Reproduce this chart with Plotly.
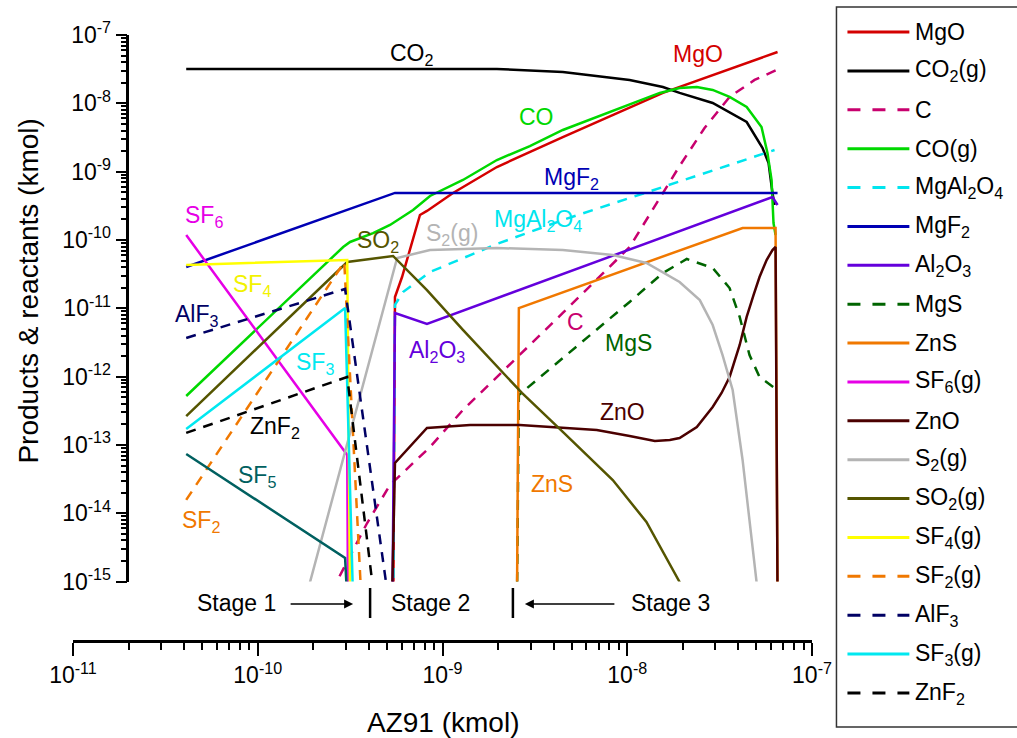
import numpy as np
import plotly.graph_objects as go

# ---------------- data (kmol) ----------------
mgo_x = [5.40e-10, 5.53e-10, 6.04e-10, 6.67e-10, 7.55e-10, 8.24e-10, 1.14e-9, 1.97e-9, 4.48e-9, 1.56e-8, 6.51e-8]
mgo_y = [1e-16, 1.46e-11, 2.87e-11, 7.13e-11, 2.32e-10, 2.66e-10, 4.88e-10, 1.17e-9, 3.21e-9, 1.42e-8, 5.64e-8]

co2_x = [4.1e-11, 2.46e-10, 1.97e-9, 4.48e-9, 1.03e-8, 1.56e-8, 1.92e-8, 2.90e-8, 4.43e-8, 5.40e-8, 5.82e-8, 6.11e-8, 6.27e-8]
co2_y = [3.18e-8, 3.18e-8, 3.18e-8, 2.88e-8, 2.20e-8, 1.73e-8, 1.42e-8, 1.01e-8, 5.33e-9, 2.22e-9, 1.34e-9, 4.88e-10, 3.25e-10]

c_x = [2.50e-10, 3.91e-10, 5.20e-10, 8.56e-10, 1.29e-9, 2.62e-9, 4.48e-9, 1.03e-8, 1.92e-8, 2.62e-8, 3.58e-8, 4.89e-8, 6.43e-8]
c_y = [7.0e-16, 7.21e-15, 2.60e-14, 9.33e-14, 3.25e-13, 2.07e-12, 8.55e-12, 7.89e-11, 1.21e-9, 4.35e-9, 1.24e-8, 2.20e-8, 3.08e-8]

co_x = [4.1e-11, 2.46e-10, 2.90e-10, 3.16e-10, 4.21e-10, 5.20e-10, 6.93e-10, 8.56e-10, 1.29e-9, 1.97e-9,
        2.97e-9, 4.48e-9, 1.03e-8, 1.50e-8, 1.92e-8, 2.38e-8, 2.90e-8, 3.58e-8, 4.43e-8, 5.33e-8,
        5.74e-8, 6.04e-8, 6.19e-8, 6.35e-8]
co_y = [5.21e-13, 5.27e-11, 7.89e-11, 9.35e-11, 1.26e-10, 1.66e-10, 2.75e-10, 4.41e-10, 7.55e-10, 1.48e-9,
        2.37e-9, 4.07e-9, 9.46e-9, 1.42e-8, 1.68e-8, 1.73e-8, 1.57e-8, 1.24e-8, 8.84e-9, 4.50e-9,
        1.88e-9, 7.55e-10, 1.77e-10, 1.18e-10]

mgal2o4_x = [5.40e-10, 5.53e-10, 6.11e-10, 8.56e-10, 1.97e-9, 4.48e-9, 1.56e-8, 5.68e-8, 6.27e-8]
mgal2o4_y = [1e-16, 1.12e-11, 1.73e-11, 3.40e-11, 8.73e-11, 1.96e-10, 5.97e-10, 1.94e-9, 2.07e-9]

mgf2_x = [4.1e-11, 5.53e-10, 6.51e-8]
mgf2_y = [4.03e-11, 4.88e-10, 4.88e-10]

al2o3_x = [5.33e-10, 5.53e-10, 8.24e-10, 6.11e-8, 6.51e-8]
al2o3_y = [1e-16, 8.55e-12, 5.90e-12, 4.26e-10, 3.25e-10]

mgs_x = [2.53e-9, 2.59e-9, 1.03e-8, 1.56e-8, 2.10e-8, 2.90e-8, 3.58e-8, 4.06e-8, 4.59e-8, 5.20e-8, 6.27e-8]
mgs_y = [5.4e-16, 5.39e-13, 1.24e-11, 3.29e-11, 5.27e-11, 3.89e-11, 1.98e-11, 7.47e-12, 2.07e-12, 9.89e-13, 6.82e-13]

zns_x = [2.53e-9, 2.59e-9, 4.21e-8, 6.35e-8, 6.51e-8]
zns_y = [5.4e-16, 1.01e-11, 1.50e-10, 1.50e-10, 5.4e-16]

sf6_x = [4.1e-11, 3.05e-10, 3.08e-10]
sf6_y = [1.18e-10, 7.13e-14, 5.4e-16]

zno_x = [5.33e-10, 5.53e-10, 8.24e-10, 1.41e-9, 2.62e-9, 6.84e-9, 1.03e-8, 1.41e-8, 1.70e-8, 1.92e-8,
         2.38e-8, 2.90e-8, 3.24e-8, 3.58e-8, 4.06e-8, 4.43e-8, 4.83e-8, 5.20e-8, 5.68e-8, 6.11e-8,
         6.35e-8, 6.51e-8]
zno_y = [5.4e-16, 5.45e-14, 1.77e-13, 1.96e-13, 1.96e-13, 1.66e-13, 1.35e-13, 1.14e-13, 1.18e-13, 1.26e-13,
         1.83e-13, 3.60e-13, 5.77e-13, 9.89e-13, 2.91e-12, 7.47e-12, 1.57e-11, 2.87e-11, 5.09e-11, 7.13e-11,
         7.89e-11, 5.4e-16]

s2_x = [1.75e-10, 5.68e-10, 8.56e-10, 1.97e-9, 4.48e-9, 8.35e-9, 1.27e-8, 1.92e-8, 2.47e-8, 2.90e-8,
        3.28e-8, 3.72e-8, 4.21e-8, 4.59e-8, 5.01e-8, 5.14e-8]
s2_y = [3.9e-16, 5.45e-11, 7.13e-11, 7.64e-11, 7.13e-11, 6.03e-11, 4.61e-11, 2.43e-11, 1.32e-11, 5.70e-12,
        2.07e-12, 6.38e-13, 6.03e-14, 7.98e-15, 9.6e-16, 5.4e-16]

so2_x = [4.1e-11, 3.05e-10, 5.40e-10, 8.24e-10, 1.29e-9, 2.69e-9, 4.48e-9, 8.35e-9, 1.27e-8, 1.92e-8, 2.12e-8]
so2_y = [2.65e-13, 4.76e-11, 5.83e-11, 1.85e-11, 4.82e-12, 5.77e-13, 1.55e-13, 3.07e-14, 7.46e-15, 9.89e-16, 5.4e-16]

sf4_x = [4.1e-11, 3.05e-10, 3.16e-10]
sf4_y = [4.31e-11, 5.09e-11, 5.4e-16]

sf2_x = [4.1e-11, 2.94e-10, 3.64e-10]
sf2_y = [1.57e-14, 4.76e-11, 5.4e-16]

alf3_x = [4.1e-11, 2.97e-10, 5.10e-10]
alf3_y = [3.68e-12, 1.92e-11, 5.4e-16]

sf3_x = [4.1e-11, 2.97e-10, 3.28e-10]
sf3_y = [1.71e-13, 1.01e-11, 5.4e-16]

znf2_x = [4.1e-11, 3.05e-10, 4.28e-10]
znf2_y = [1.50e-13, 9.89e-13, 5.4e-16]

sf5_x = [4.1e-11, 2.97e-10, 3.05e-10]
sf5_y = [7.38e-14, 2.22e-15, 5.4e-16]

# in-plot labels
label_text = ["CO<sub>2</sub>", "MgO", "CO", "MgF<sub>2</sub>", "MgAl<sub>2</sub>O<sub>4</sub>", "S<sub>2</sub>(g)",
              "SO<sub>2</sub>", "SF<sub>6</sub>", "SF<sub>4</sub>", "AlF<sub>3</sub>", "SF<sub>3</sub>",
              "ZnF<sub>2</sub>", "SF<sub>5</sub>", "SF<sub>2</sub>", "Al<sub>2</sub>O<sub>3</sub>", "C",
              "MgS", "ZnO", "ZnS"]
label_x = [6.84e-10, 2.43e-8, 3.24e-9, 5.01e-9, 3.28e-9, 1.13e-9, 4.48e-10, 5.14e-11, 9.34e-11, 4.71e-11,
           2.05e-10, 1.24e-10, 9.94e-11, 4.95e-11, 9.34e-10, 5.27e-9, 1.02e-8, 9.46e-9, 3.91e-9]
label_y = [5.10e-8, 5.27e-8, 6.31e-9, 7.81e-10, 1.90e-10, 1.22e-10, 9.35e-11, 2.17e-10, 2.19e-11, 7.98e-12,
           1.58e-12, 1.83e-13, 3.40e-14, 7.46e-15, 2.37e-12, 6.31e-12, 3.11e-12, 3.04e-13, 2.69e-14]
label_color = ["#000000", "#d40000", "#00d800", "#0000b4", "#00e5ee", "#b4b4b4", "#555500", "#e600e6",
               "#f2f200", "#000064", "#00e8f0", "#000000", "#006060", "#f07800", "#6400dc", "#c8006e",
               "#006400", "#4b0000", "#f07800"]

x_tick_vals = [1e-11, 1e-10, 1e-9, 1e-8, 1e-7]
x_tick_text = ["10<sup>-11</sup>", "10<sup>-10</sup>", "10<sup>-9</sup>", "10<sup>-8</sup>", "10<sup>-7</sup>"]
y_tick_vals = [1e-15, 1e-14, 1e-13, 1e-12, 1e-11, 1e-10, 1e-9, 1e-8, 1e-7]
y_tick_text = ["10<sup>-15</sup>", "10<sup>-14</sup>", "10<sup>-13</sup>", "10<sup>-12</sup>", "10<sup>-11</sup>",
               "10<sup>-10</sup>", "10<sup>-9</sup>", "10<sup>-8</sup>", "10<sup>-7</sup>"]

FONT = "Liberation Sans, Arial, sans-serif"
DASH = "10px,8px"

series = [
    ("MgO", mgo_x, mgo_y, "#d40000", "solid", True),
    ("CO<sub>2</sub>(g)", co2_x, co2_y, "#000000", "solid", True),
    ("C", c_x, c_y, "#c8006e", DASH, True),
    ("CO(g)", co_x, co_y, "#00d800", "solid", True),
    ("MgAl<sub>2</sub>O<sub>4</sub>", mgal2o4_x, mgal2o4_y, "#00e5ee", DASH, True),
    ("MgF<sub>2</sub>", mgf2_x, mgf2_y, "#0000b4", "solid", True),
    ("Al<sub>2</sub>O<sub>3</sub>", al2o3_x, al2o3_y, "#6400dc", "solid", True),
    ("MgS", mgs_x, mgs_y, "#006400", DASH, True),
    ("ZnS", zns_x, zns_y, "#f07800", "solid", True),
    ("SF<sub>6</sub>(g)", sf6_x, sf6_y, "#e600e6", "solid", True),
    ("ZnO", zno_x, zno_y, "#4b0000", "solid", True),
    ("S<sub>2</sub>(g)", s2_x, s2_y, "#b4b4b4", "solid", True),
    ("SO<sub>2</sub>(g)", so2_x, so2_y, "#555500", "solid", True),
    ("SF<sub>4</sub>(g)", sf4_x, sf4_y, "#ffff00", "solid", True),
    ("SF<sub>2</sub>(g)", sf2_x, sf2_y, "#f07800", DASH, True),
    ("AlF<sub>3</sub>", alf3_x, alf3_y, "#000064", DASH, True),
    ("SF<sub>3</sub>(g)", sf3_x, sf3_y, "#00e8f0", "solid", True),
    ("ZnF<sub>2</sub>", znf2_x, znf2_y, "#000000", DASH, True),
    ("SF<sub>5</sub>", sf5_x, sf5_y, "#006060", "solid", False),
]

fig = go.Figure()
for name, xs, ys, col, dash, show in series:
    fig.add_trace(go.Scatter(x=xs, y=ys, mode="lines", name=name, showlegend=False,
                             line=dict(color=col, width=2.5, dash=dash)))

minor_x = [m * 10.0 ** e for e in range(-11, -7) for m in range(2, 10)]
minor_y = [m * 10.0 ** e for e in range(-15, -7) for m in range(2, 10)]

# geometry helpers (plot area: x 72.5..812.5 px, paper y=0 at 641 px, 606 px tall)
def px_to_paper_x(px):
    return (px - 72.5) / 740.0

def py_to_paper_y(py):
    return (641.0 - py) / 606.0

annotations = []
for t, lx, ly, c in zip(label_text, label_x, label_y, label_color):
    annotations.append(dict(x=np.log10(lx), y=np.log10(ly), xref="x", yref="y", text=t, showarrow=False,
                            font=dict(size=23, color=c, family=FONT), xanchor="center", yanchor="middle"))

stage_font = dict(size=23, color="black", family=FONT)
annotations += [
    dict(x=px_to_paper_x(236), y=py_to_paper_y(603), xref="paper", yref="paper", text="Stage 1",
         showarrow=False, xanchor="center", yanchor="middle", font=stage_font),
    dict(x=px_to_paper_x(430), y=py_to_paper_y(603), xref="paper", yref="paper", text="Stage 2",
         showarrow=False, xanchor="center", yanchor="middle", font=stage_font),
    dict(x=px_to_paper_x(671), y=py_to_paper_y(603), xref="paper", yref="paper", text="Stage 3",
         showarrow=False, xanchor="center", yanchor="middle", font=stage_font),
    dict(x=px_to_paper_x(353), y=py_to_paper_y(604), xref="paper", yref="paper", text="", showarrow=True,
         ax=-64, ay=0, arrowhead=2, arrowsize=1.2, arrowwidth=1.5, arrowcolor="black"),
    dict(x=px_to_paper_x(525), y=py_to_paper_y(604), xref="paper", yref="paper", text="", showarrow=True,
         ax=91, ay=0, arrowhead=2, arrowsize=1.2, arrowwidth=1.5, arrowcolor="black"),
    dict(x=px_to_paper_x(27), y=py_to_paper_y(291), xref="paper", yref="paper",
         text="Products &amp; reactants (kmol)", textangle=-90, showarrow=False,
         xanchor="center", yanchor="middle", font=dict(size=28, color="black", family=FONT)),
    dict(x=0.5, y=py_to_paper_y(722), xref="paper", yref="paper", text="AZ91 (kmol)", showarrow=False,
         xanchor="center", yanchor="middle", font=dict(size=28, color="black", family=FONT)),
]

shapes = [
    dict(type="line", xref="paper", yref="paper", x0=px_to_paper_x(370), x1=px_to_paper_x(370),
         y0=py_to_paper_y(618), y1=py_to_paper_y(588), line=dict(color="black", width=2.5)),
    dict(type="line", xref="paper", yref="paper", x0=px_to_paper_x(513), x1=px_to_paper_x(513),
         y0=py_to_paper_y(618), y1=py_to_paper_y(588), line=dict(color="black", width=2.5)),
    # legend frame
    dict(type="rect", xref="paper", yref="paper", x0=px_to_paper_x(837), x1=px_to_paper_x(1040),
         y0=py_to_paper_y(727), y1=py_to_paper_y(7), line=dict(color="#333333", width=1.5),
         fillcolor="white", layer="below"),
]

# legend entries (drawn as line samples + text)
legend_items = [s for s in series if s[5]]
step = (693.0 - 32.0) / (len(legend_items) - 1)
for i, (name, xs, ys, col, dash, show) in enumerate(legend_items):
    yy = py_to_paper_y(32.0 + i * step)
    sample_dash = "13px,12px" if dash != "solid" else "solid"
    shapes.append(dict(type="line", xref="paper", yref="paper", x0=px_to_paper_x(848), x1=px_to_paper_x(910),
                       y0=yy, y1=yy, line=dict(color=col, width=3, dash=sample_dash)))
    annotations.append(dict(x=px_to_paper_x(914), y=yy, xref="paper", yref="paper", text=name,
                            showarrow=False, xanchor="left", yanchor="middle",
                            font=dict(size=23, color="black", family=FONT)))

fig.update_layout(
    width=1017, height=738,
    margin=dict(l=72.5, r=204.5, t=35, b=97, autoexpand=False),
    paper_bgcolor="white", plot_bgcolor="white",
    font=dict(family=FONT, size=22, color="black"),
    showlegend=False,
    xaxis=dict(type="log", range=[-11, -7], domain=[0, 1], anchor="free", position=0,
               showline=True, linecolor="black", linewidth=2.5, showgrid=False, zeroline=False,
               tickmode="array", tickvals=x_tick_vals, ticktext=x_tick_text,
               ticks="outside", ticklen=13, tickwidth=2, tickcolor="black",
               tickfont=dict(size=23, family=FONT),
               minor=dict(tickmode="array", tickvals=minor_x, ticks="outside", ticklen=7,
                          tickwidth=2, tickcolor="black", showgrid=False)),
    yaxis=dict(type="log", range=[-15, -7], domain=[0.098, 1], anchor="free", position=0.0736,
               showline=True, linecolor="black", linewidth=2.5, showgrid=False, zeroline=False,
               tickmode="array", tickvals=y_tick_vals, ticktext=y_tick_text,
               ticks="outside", ticklen=11, tickwidth=2, tickcolor="black",
               tickfont=dict(size=23, family=FONT),
               minor=dict(tickmode="array", tickvals=minor_y, ticks="outside", ticklen=6,
                          tickwidth=1.5, tickcolor="black", showgrid=False)),
    annotations=annotations,
    shapes=shapes,
)

fig.write_html("out.html")
